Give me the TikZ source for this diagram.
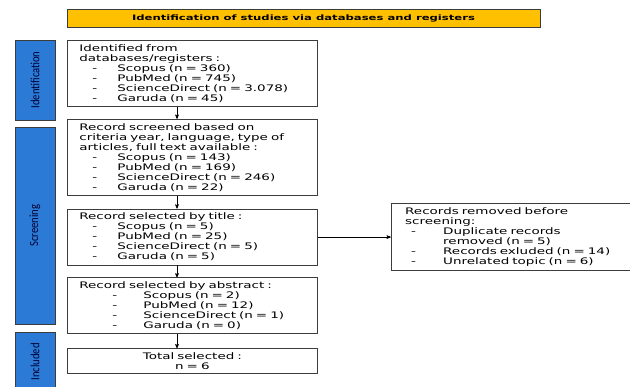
\documentclass[tikz,border=0pt]{standalone}
\usepackage{fontspec}
\setmainfont{DejaVu Sans}[FakeStretch=1.5]
\newfontfamily\titlefont{DejaVu Sans}[FakeStretch=1.55]
\newfontfamily\sidefont{Carlito}[FakeStretch=0.85]
\usetikzlibrary{arrows, positioning}
\definecolor{sideblue}{RGB}{42,122,214}
\definecolor{headorange}{RGB}{255,192,0}
\definecolor{linegray}{RGB}{60,60,60}
\newcommand\itm[3]{\hspace*{#1}\makebox[#2][l]{-}#3}

\begin{document}
\begin{tikzpicture}[x=1pt,y=-1pt,->,>=stealth',semithick,
    box/.style={draw=linegray, thick, align=left, text width=226pt, inner xsep=12pt, inner ysep=4pt,
      font=\fontsize{9}{10}\selectfont},
    side/.style={draw=linegray, thick, fill=sideblue, rotate=90, minimum height=40pt,
      font=\sidefont\fontsize{12.5}{12}\selectfont, text=black!80!blue}]
                \useasboundingbox (0,0) rectangle (630,387);
                \node[draw=linegray, thick, fill=headorange, minimum width=473pt, minimum height=18pt,
                  font=\titlefont\bfseries\fontsize{7.5}{8}\selectfont] (head) at (303.5,18)
                  {Identification of studies via databases and registers};
                \node[side, minimum width=80pt] (id) at (35,80) {Identification};
                \node[side, minimum width=197pt] (scr) at (35,225.5) {Screening};
                \node[side, minimum width=60pt] (inc) at (35,362) {Included};
                \node[box, anchor=north west] (1) at (67,40)
                  {Identified from\\databases/registers :\\
                   \itm{13pt}{25pt}{Scopus (n = 360)}\\
                   \itm{13pt}{25pt}{PubMed (n = 745)}\\
                   \itm{13pt}{25pt}{ScienceDirect (n = 3.078)}\\
                   \itm{13pt}{25pt}{Garuda (n = 45)}};
                \node[box, below=12pt of 1] (2)
                  {Record screened based on\\criteria year, language, type of\\articles, full text available :\\
                   \itm{13pt}{25pt}{Scopus (n = 143)}\\
                   \itm{13pt}{25pt}{PubMed (n = 169)}\\
                   \itm{13pt}{25pt}{ScienceDirect (n = 246)}\\
                   \itm{13pt}{25pt}{Garuda (n = 22)}};
                \node[box, below=13pt of 2] (3)
                  {Record selected by title :\\
                   \itm{13pt}{25pt}{Scopus (n = 5)}\\
                   \itm{13pt}{25pt}{PubMed (n = 25)}\\
                   \itm{13pt}{25pt}{ScienceDirect (n = 5)}\\
                   \itm{13pt}{25pt}{Garuda (n = 5)}};
                \node[box, below=12pt of 3] (4)
                  {Record selected by abstract :\\
                   \itm{33pt}{31pt}{Scopus (n = 2)}\\
                   \itm{33pt}{31pt}{PubMed (n = 12)}\\
                   \itm{33pt}{31pt}{ScienceDirect (n = 1)}\\
                   \itm{33pt}{31pt}{Garuda (n = 0)}};
                \node[box, align=center, below=14pt of 4] (5) {Total selected :\\n = 6};
                \node[box, text width=214pt, inner xsep=14pt, right=73pt of 3] (6)
                  {Records removed before\\screening:\\
                   \itm{6pt}{32pt}{Duplicate records}\\
                   \hspace*{38pt}removed (n = 5)\\
                   \itm{6pt}{32pt}{Records exluded (n = 14)}\\
                   \itm{6pt}{32pt}{Unrelated topic (n = 6)}};
                \coordinate (ax) at (177,0);
                \path
                (1.south -| ax) edge (2.north -| ax)
                (2.south -| ax) edge (3.north -| ax)
                (3.south -| ax) edge (4.north -| ax)
                (4.south -| ax) edge (5.north -| ax)
                (3.east) edge (6.west |- 3.east)
                ;
            \end{tikzpicture}
\end{document}
